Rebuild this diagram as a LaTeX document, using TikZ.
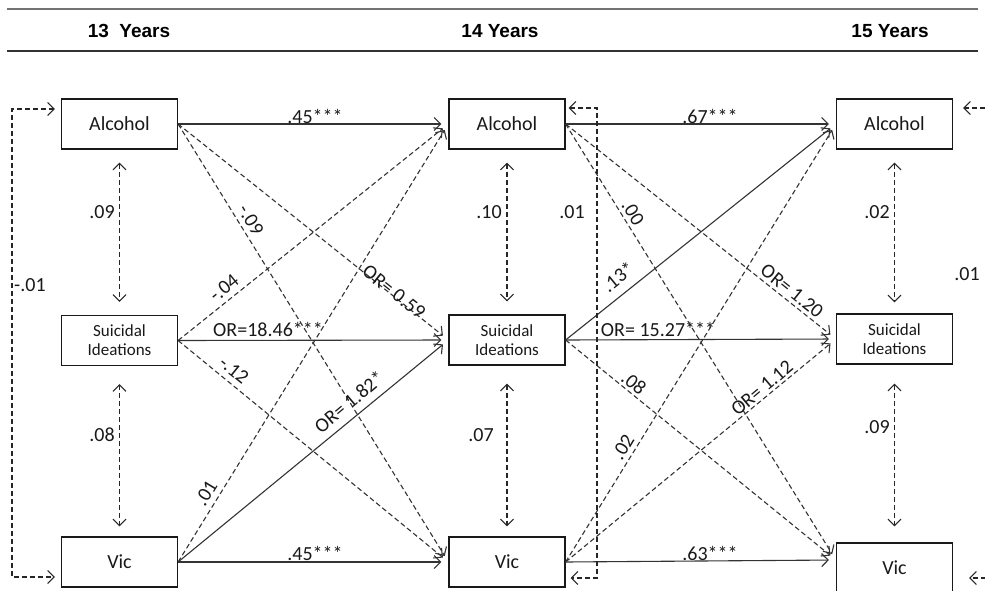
\documentclass[tikz,border=0pt]{standalone}
\usepackage{fontspec}
\setmainfont{Carlito}
\newfontfamily\hdrfont{Liberation Sans}
\usetikzlibrary{arrows.meta}
\begin{document}
\begin{tikzpicture}[x=1pt,y=-1pt,
 box/.style={draw=black!90,line width=1.2pt,minimum width=116pt,minimum height=50pt,inner sep=0pt,font=\fontsize{20}{24}\selectfont,text=black!90},
 sbox/.style={box,font=\fontsize{17}{19}\selectfont,align=center},
 sol/.style={-{Straight Barb[length=6.5pt,width=13pt]},line width=1.1pt,draw=black!80,shorten >=7pt},
 dsh/.style={sol,dash pattern=on 5pt off 3pt},
 vd/.style={{Straight Barb[length=6.5pt,width=13pt]}-{Straight Barb[length=6.5pt,width=13pt]},line width=1.1pt,draw=black!85,dash pattern=on 5pt off 3pt},
 lab/.style={font=\fontsize{20}{22}\selectfont,text=black!90,inner sep=0pt},
 hdr/.style={font=\hdrfont\bfseries\fontsize{19}{22}\selectfont,text=black},
]
\useasboundingbox (0,0) rectangle (985,591);
\clip (0,0) rectangle (985,591);

% header
\draw[line width=1.3pt,black!55] (7,9) -- (978,9);
\draw[line width=2pt,black!80] (7,51) -- (978,51);
\node[hdr] (h13) at (129,31) {13~ Years};
\node[hdr] (h14) at (500,31) {14 Years};
\node[hdr] (h15) at (890,31) {15 Years};

% boxes
\node[box] (A13) at (119.5,124) {Alcohol};
\node[sbox] (S13) at (119.5,340.5) {Suicidal\\Ideations};
\node[box] (V13) at (119.5,562) {Vic};
\node[box] (A14) at (507,124) {Alcohol};
\node[sbox] (S14) at (507,340) {Suicidal\\Ideations};
\node[box] (V14) at (507,562) {Vic};
\node[box] (A15) at (894.5,124) {Alcohol};
\node[sbox] (S15) at (894.5,339) {Suicidal\\Ideations};
\node[box] (V15) at (894.5,568) {Vic};
\coordinate (V15in) at ([yshift=8pt]V15.west);

% 13 -> 14
\draw[sol] (A13.east) -- (A14.west);
\draw[dsh] (A13.east) -- (S14.west);
\draw[dsh] (A13.east) -- (V14.west);
\draw[dsh] (S13.east) -- (A14.west);
\draw[sol] (S13.east) -- (S14.west);
\draw[dsh] (S13.east) -- (V14.west);
\draw[dsh] (V13.east) -- (A14.west);
\draw[sol] (V13.east) -- (S14.west);
\draw[sol] (V13.east) -- (V14.west);

% 14 -> 15
\draw[sol] (A14.east) -- (A15.west);
\draw[dsh] (A14.east) -- (S15.west);
\draw[dsh] (A14.east) -- (V15in);
\draw[sol] (S14.east) -- (A15.west);
\draw[sol] (S14.east) -- (S15.west);
\draw[dsh] (S14.east) -- (V15in);
\draw[dsh] (V14.east) -- (A15.west);
\draw[dsh] (V14.east) -- (S15.west);
\draw[sol] (V14.east) -- (V15in);

% within-wave correlations
\draw[vd,shorten <=13pt,shorten >=13pt] (A13.south) -- (S13.north);
\draw[vd,shorten <=18pt,shorten >=10pt] (S13.south) -- (V13.north);
\draw[vd,shorten <=13pt,shorten >=13pt] (A14.south) -- (S14.north);
\draw[vd,shorten <=18pt,shorten >=10pt] (S14.south) -- (V14.north);
\draw[vd,shorten <=13pt,shorten >=11pt] (A15.south) -- (S15.north);
\draw[vd,shorten <=19pt,shorten >=16pt] (S15.south) -- (V15.north);

% loops Alcohol <-> Vic
\coordinate (L13) at (12,340);
\coordinate (L14) at (597,340);
\coordinate (L15) at (1000,340);
\draw[vd,shorten <=6pt,shorten >=6pt] ([yshift=15pt]A13.west) -| (L13) |- ([yshift=-15pt]V13.west);
\draw[vd,shorten <=3pt,shorten >=5pt] ([yshift=16pt]A14.east) -| (L14) |- ([yshift=-16pt]V14.east);
\draw[vd,shorten <=10pt,shorten >=16pt] ([yshift=16pt]A15.east) -| (L15) |- ([yshift=-10pt]V15.east);

% labels 13 -> 14
\node[lab] (l1) at (315,116) {.45***};
\node[lab,rotate=-58.4] (l2) at (251,220) {-.09};
\node[lab,rotate=-38.6] (l3) at (394,292) {OR= 0.59};
\node[lab,rotate=39.2] (l4) at (224,288) {-.04};
\node[lab] (l5) at (268,329) {OR=18.46***};
\node[lab,rotate=-38.9] (l6) at (234,370) {-.12};
\node[lab,rotate=40] (l7) at (349,402) {OR= 1.82*};
\node[lab,rotate=58.7] (l8) at (206,493) {.01};
\node[lab] (l9) at (315,553) {.45***};

% labels 14 -> 15
\node[lab] (m1) at (710,116) {.67***};
\node[lab,rotate=-58.6] (m2) at (633,213) {.00};
\node[lab,rotate=-38.8] (m3) at (792,291) {OR= 1.20};
\node[lab,rotate=39.2] (m4) at (618,277) {.13*};
\node[lab] (m5) at (658,329) {OR= 15.27***};
\node[lab,rotate=-39] (m6) at (634,383) {.08};
\node[lab,rotate=58.9] (m7) at (623,447) {.02};
\node[lab,rotate=40] (m8) at (762,388) {OR= 1.12};
\node[lab] (m9) at (710,553) {.63***};

% correlation labels
\node[lab] (c1) at (102,212) {.09};
\node[lab] (c2) at (102,435) {.08};
\node[lab] (c3) at (489,212) {.10};
\node[lab] (c4) at (481,435) {.07};
\node[lab] (c5) at (877,212) {.02};
\node[lab] (c6) at (877,427) {.09};
\node[lab,anchor=west] (c7) at (14,285) {-.01};
\node[lab] (c8) at (572,212) {.01};
\node[lab] (c9) at (967,274) {.01};
\end{tikzpicture}
\end{document}
